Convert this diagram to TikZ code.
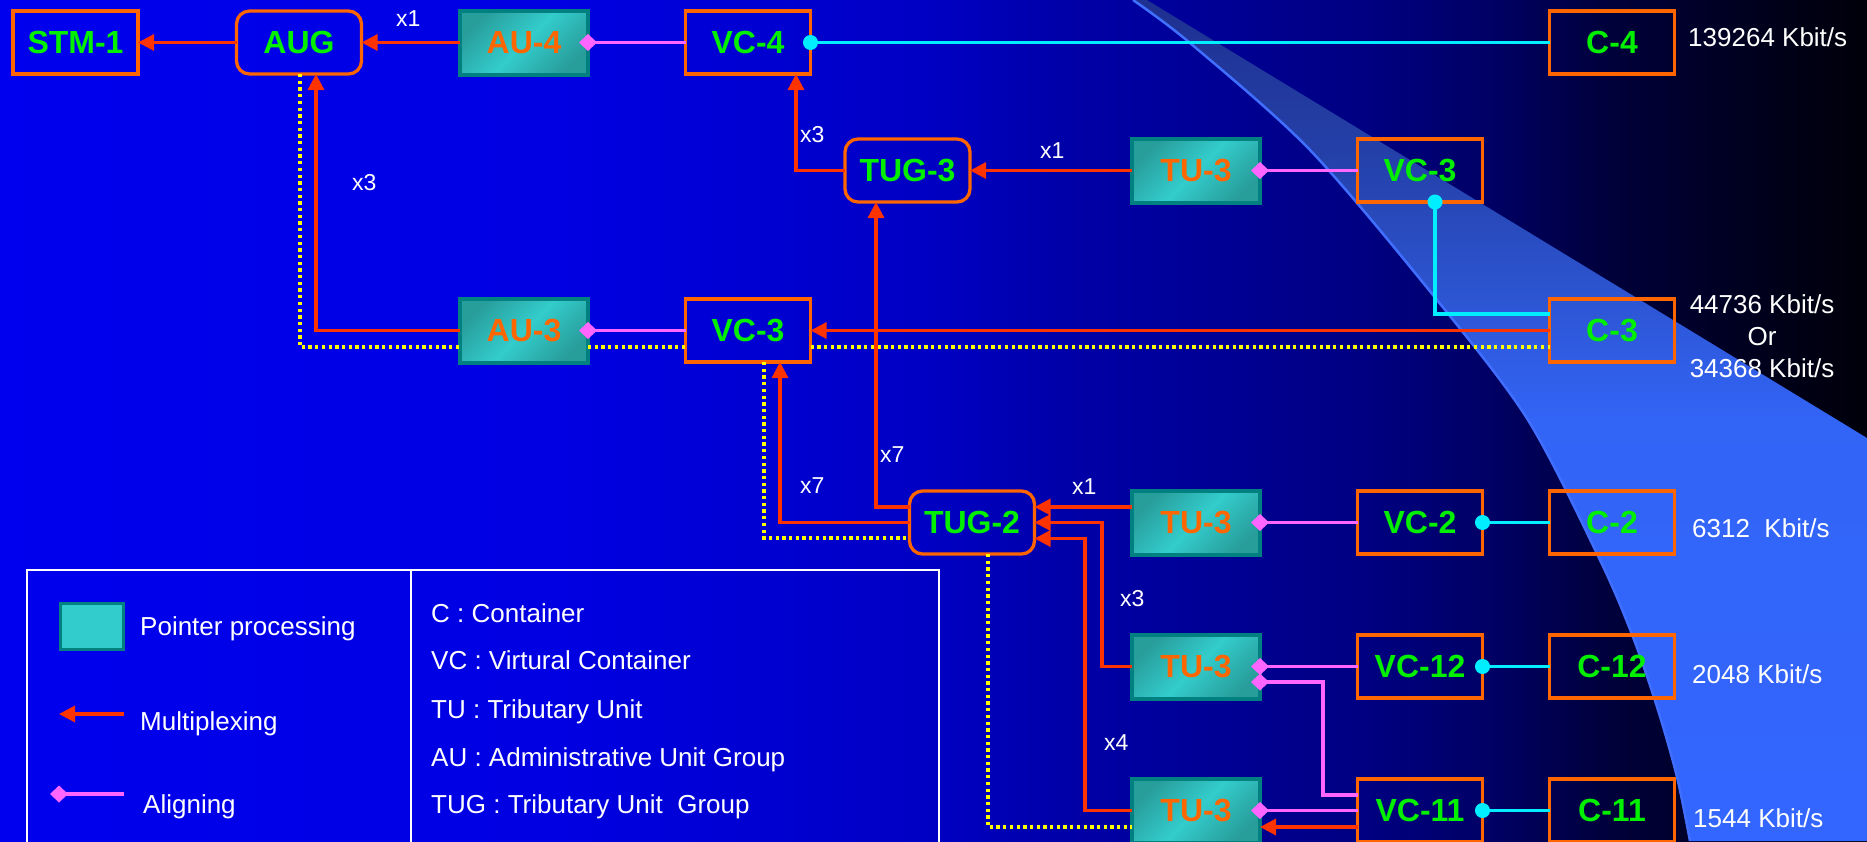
\documentclass[tikz,border=0pt]{standalone}
\usepackage{fontspec}
\setmainfont{Liberation Sans}
\usetikzlibrary{arrows.meta,calc}
\definecolor{orng}{RGB}{255,102,0}
\definecolor{grn}{RGB}{0,240,0}
\definecolor{redA}{RGB}{255,51,0}
\definecolor{pinkA}{RGB}{255,102,255}
\definecolor{cyanA}{RGB}{0,238,255}
\definecolor{yelA}{RGB}{255,255,0}
\definecolor{tealF}{RGB}{51,204,204}
\definecolor{tealD}{RGB}{40,158,155}
\definecolor{tealB}{RGB}{0,128,128}
\definecolor{edgeblue}{RGB}{64,110,255}
\definecolor{bgA}{RGB}{0,0,238}
\definecolor{bgB}{RGB}{0,0,226}
\definecolor{bgC}{RGB}{0,0,195}
\definecolor{bgD}{RGB}{0,0,168}
\definecolor{bgE}{RGB}{0,0,130}
\definecolor{bgF}{RGB}{0,0,100}
\definecolor{bgG}{RGB}{0,0,60}
\definecolor{bgH}{RGB}{0,0,22}
\definecolor{bgI}{RGB}{0,0,10}
\definecolor{bdA}{RGB}{51,102,255}
\definecolor{bdB}{RGB}{50,100,246}
\definecolor{bdC}{RGB}{45,86,212}
\definecolor{bdD}{RGB}{36,64,168}
\definecolor{bdE}{RGB}{30,48,145}
\pgfdeclarehorizontalshading{bgshade}{100bp}{color(0bp)=(bgA); color(25bp)=(bgA); color(40bp)=(bgB); color(50bp)=(bgC); color(53.5bp)=(bgD); color(61.5bp)=(bgE); color(65bp)=(bgF); color(68bp)=(bgG); color(73bp)=(bgH); color(75bp)=(bgI); color(100bp)=(bgI)}
\pgfdeclareverticalshading{bandshade}{100bp}{color(0bp)=(bdA); color(25bp)=(bdA); color(50bp)=(bdB); color(57bp)=(bdC); color(66bp)=(bdD); color(75bp)=(bdE); color(100bp)=(bdE)}
\tikzset{
  box/.style={draw=orng, line width=3.3pt, minimum width=125pt, minimum height=63pt,
    inner sep=0pt, outer sep=0pt, text=grn, font=\fontsize{32}{36}\selectfont\bfseries},
  rbox/.style={box, rounded corners=13pt},
  tbox/.style={draw=tealB, line width=4pt, minimum width=128pt, minimum height=64pt,
    inner sep=0pt, outer sep=0pt, left color=tealD, right color=tealD, middle color=tealF,
    shading angle=45, text=orng, font=\fontsize{32}{36}\selectfont\bfseries},
  mux/.style={draw=redA, line width=3.2pt, -{Triangle[length=16pt,width=16pt]}},
  aln/.style={draw=pinkA, line width=3.2pt, {Turned Square[length=18pt,width=17pt]}-, shorten <=-9pt},
  cmap/.style={draw=cyanA, line width=3.2pt, {Circle[length=15pt]}-, shorten <=-7.5pt},
  yel/.style={draw=yelA, line width=3.3pt, dash pattern=on 3.3pt off 3.4pt},
  lbl/.style={text=white, font=\fontsize{23}{26}\selectfont, anchor=base west, inner sep=0pt},
  rate/.style={text=white, font=\fontsize{26}{30}\selectfont, anchor=base west, inner sep=0pt},
  legtxt/.style={text=white, font=\fontsize{26}{30}\selectfont, anchor=base west, inner sep=0pt},
  legline/.style={draw=white, line width=2pt},
}
\begin{document}
\begin{tikzpicture}[x=1pt,y=-1pt]
\useasboundingbox (0,0) rectangle (1867,841);
\clip (0,0) rectangle (1867,841);
% background
\shade[shading=bgshade] (0,0) rectangle (1867,841);
% light wedge
\shade[shading=bandshade] plot[smooth] coordinates {(1133,0) (1190,43) (1310,150) (1437,300) (1528,420) (1600,560) (1633,637) (1658,710) (1677,777) (1690,841)} -- (1867,841) -- (1867,438) -- (1147,0) -- cycle;
\draw[edgeblue, line width=2.5pt] plot[smooth] coordinates {(1133,0) (1190,43) (1310,150) (1437,300) (1528,420) (1600,560) (1633,637) (1658,710) (1677,777) (1690,841)};

% nodes
\node[box] (STM1) at (75.5,42.5) {STM-1};
\node[rbox] (AUG) at (299,42.5) {AUG};
\node[tbox] (AU4) at (524,42.5) {AU-4};
\node[box] (VC4) at (748,42.5) {VC-4};
\node[box] (C4) at (1612,42.5) {C-4};
\node[rbox] (TUG3) at (907.5,170.5) {TUG-3};
\node[tbox] (TU3a) at (1196,170.5) {TU-3};
\node[box] (VC3a) at (1420,170.5) {VC-3};
\node[tbox] (AU3) at (524,330.5) {AU-3};
\node[box] (VC3b) at (748,330.5) {VC-3};
\node[box] (C3) at (1612,330.5) {C-3};
\node[rbox] (TUG2) at (972,522.5) {TUG-2};
\node[tbox] (TU3b) at (1196,522.5) {TU-3};
\node[box] (VC2) at (1420,522.5) {VC-2};
\node[box] (C2) at (1612,522.5) {C-2};
\node[tbox] (TU3c) at (1196,666.5) {TU-3};
\node[box] (VC12) at (1420,666.5) {VC-12};
\node[box] (C12) at (1612,666.5) {C-12};
\node[tbox] (TU3d) at (1196,810.5) {TU-3};
\node[box] (VC11) at (1420,810.5) {VC-11};
\node[box] (C11) at (1612,810.5) {C-11};

% yellow dotted paths
\draw[yel] ([xshift=1pt]AUG.south) |- ([yshift=-16.5pt]AU3.west);
\draw[yel] ([yshift=-16.5pt]AU3.east) -- ([yshift=-16.5pt]VC3b.west);
\draw[yel] ([yshift=-16.5pt]VC3b.east) -- ([yshift=-16.5pt]C3.west);
\draw[yel] ([xshift=16pt]VC3b.south) |- ([yshift=-15.5pt]TUG2.west);
\draw[yel] ([xshift=16pt]TUG2.south) |- ([yshift=-16.5pt]TU3d.west);

% multiplexing
\draw[mux] (AUG.west) -- (STM1.east);
\draw[mux] (AU4.west) -- (AUG.east);
\draw[mux] (TUG3.west) -| ([xshift=48pt]VC4.south);
\draw[mux] (TU3a.west) -- (TUG3.east);
\draw[mux] (C3.west) -- (VC3b.east);
\draw[mux] (AU3.west) -| ([xshift=17pt]AUG.south);
\draw[mux] ([yshift=15.5pt]TUG2.west) -| ([xshift=-31.5pt]TUG3.south);
\draw[mux] (TUG2.west) -| ([xshift=32pt]VC3b.south);
\draw[mux] ([yshift=15.5pt]TU3b.west) -- ([yshift=15.5pt]TUG2.east);
\draw[mux] (TU3c.west) -- ++(-30,0) |- (TUG2.east);
\draw[mux] (TU3d.west) -- ++(-47,0) |- ([yshift=-16pt]TUG2.east);
\draw[mux] ([yshift=-16.5pt]VC11.west) -- ([yshift=-16.5pt]TU3d.east);

% aligning
\draw[aln] (AU4.east) -- (VC4.west);
\draw[aln] (TU3a.east) -- (VC3a.west);
\draw[aln] (AU3.east) -- (VC3b.west);
\draw[aln] (TU3b.east) -- (VC2.west);
\draw[aln] (TU3c.east) -- (VC12.west);
\draw[aln] ([yshift=-15.5pt]TU3c.east) -- ++(63,0) |- ([yshift=15.5pt]VC11.west);
\draw[aln] (TU3d.east) -- (VC11.west);

% mapping
\draw[cmap] (VC4.east) -- (C4.west);
\draw[cmap] ([xshift=15pt]VC3a.south) |- ([yshift=16.5pt]C3.west);
\draw[cmap] (VC2.east) -- (C2.west);
\draw[cmap] (VC12.east) -- (C12.west);
\draw[cmap] (VC11.east) -- (C11.west);

% multiplicity labels
\node[lbl] (m1) at (396,26) {x1};
\node[lbl] (m2) at (352,190) {x3};
\node[lbl] (m3) at (800,142) {x3};
\node[lbl] (m4) at (1040,158) {x1};
\node[lbl] (m5) at (880,462) {x7};
\node[lbl] (m6) at (800,493) {x7};
\node[lbl] (m7) at (1072,494) {x1};
\node[lbl] (m8) at (1120,606) {x3};
\node[lbl] (m9) at (1104,750) {x4};

% rates
\node[rate] (r1) at (1688,46) {139264 Kbit/s};
\node[rate, anchor=base] (r2) at (1762,313) {44736 Kbit/s};
\node[rate, anchor=base] (r3) at (1762,345) {Or};
\node[rate, anchor=base] (r4) at (1762,377) {34368 Kbit/s};
\node[rate] (r5) at (1692,537) {6312\ \ Kbit/s};
\node[rate] (r6) at (1692,683) {2048 Kbit/s};
\node[rate] (r7) at (1693,827) {1544 Kbit/s};

% legend
\draw[legline] (27,570) rectangle (939,880);
\draw[legline] (411,570) -- (411,880);
\node[draw=tealB, line width=3pt, fill=tealF, minimum width=63pt, minimum height=46pt,
  inner sep=0pt, outer sep=0pt] (swatch) at (92,626.5) {};
\node[legtxt] (t1) at (140,635) {Pointer processing};
\coordinate (mxA) at (124,714);
\coordinate (mxB) at (59,714);
\draw[mux, -{Triangle[length=16pt,width=16pt]}] (mxA) -- (mxB);
\node[legtxt] (t2) at (140,730) {Multiplexing};
\coordinate (alA) at (124,794);
\coordinate (alB) at (59,794);
\draw[aln] (alB) -- (alA);
\node[legtxt] (t3) at (143,813) {Aligning};
\node[legtxt] (d1) at (431,622) {C : Container};
\node[legtxt] (d2) at (431,669) {VC : Virtural Container};
\node[legtxt] (d3) at (431,718) {TU : Tributary Unit};
\node[legtxt] (d4) at (431,766) {AU : Administrative Unit Group};
\node[legtxt] (d5) at (431,813) {TUG : Tributary Unit\ \ Group};
\end{tikzpicture}
\end{document}
